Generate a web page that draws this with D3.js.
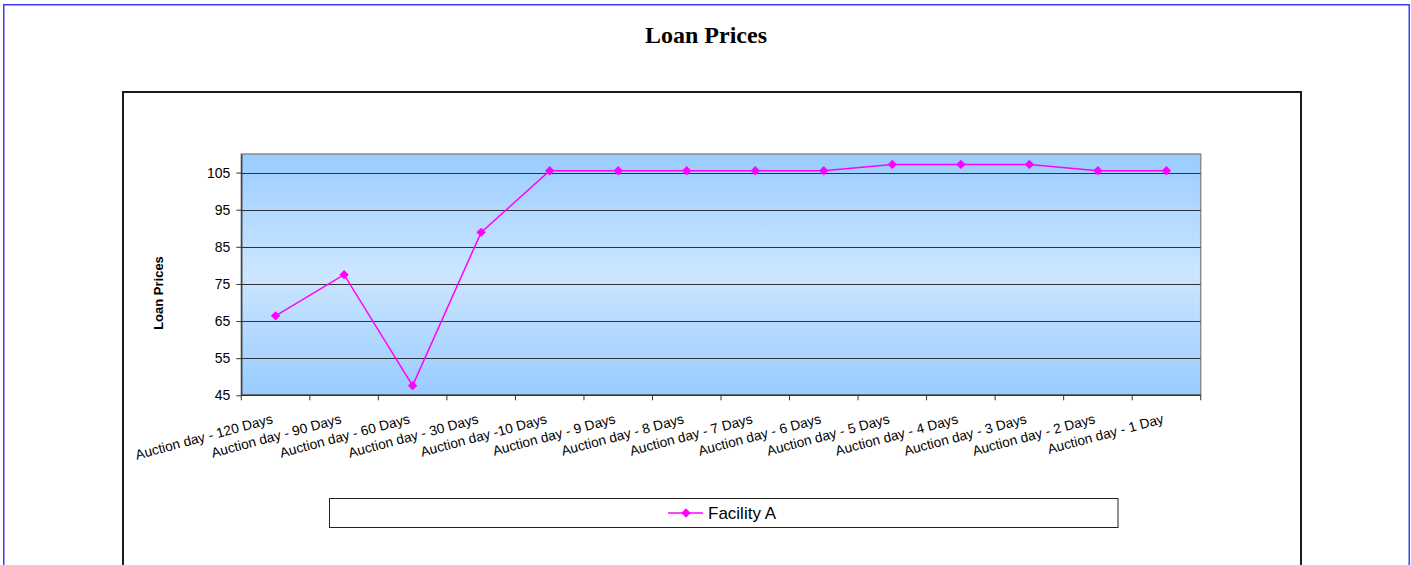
<!DOCTYPE html>
<html>
<head>
<meta charset="utf-8">
<script src="https://cdn.jsdelivr.net/npm/d3@7"></script>
<style>
  html, body { margin: 0; padding: 0; background: #fff; }
  svg { display: block; }
</style>
</head>
<body>
<svg id="chart" width="1411" height="565"></svg>
<script>
const categories = [
  "Auction day - 120 Days", "Auction day - 90 Days", "Auction day - 60 Days",
  "Auction day - 30 Days", "Auction day -10 Days", "Auction day - 9 Days",
  "Auction day - 8 Days", "Auction day - 7 Days", "Auction day - 6 Days",
  "Auction day - 5 Days", "Auction day - 4 Days", "Auction day - 3 Days",
  "Auction day - 2 Days", "Auction day - 1 Day"
];
const facilityA = [66.4, 77.5, 47.6, 88.9, 105.5, 105.5, 105.5, 105.5, 105.5, 107.2, 107.2, 107.2, 105.5, 105.5];
const yTicks = [45, 55, 65, 75, 85, 95, 105];
const yDomain = [45, 110];
const seriesName = "Facility A";
const chartTitle = "Loan Prices";
const yTitle = "Loan Prices";

const svg = d3.select("#chart");
const plot = { left: 241.3, right: 1200.7, top: 154, bottom: 395.3 };
const sans = "'Liberation Sans', Arial, sans-serif";

// outer page border
svg.append("rect").attr("x", 3.75).attr("y", 4.75).attr("width", 1405.5).attr("height", 620)
  .attr("fill", "none").attr("stroke", "#3c3cff").attr("stroke-width", 1.5);
// chart area border
svg.append("rect").attr("x", 123).attr("y", 92).attr("width", 1178).attr("height", 600)
  .attr("fill", "#fff").attr("stroke", "#1a1a1a").attr("stroke-width", 2);

// title
svg.append("text").attr("x", 706).attr("y", 43).attr("text-anchor", "middle")
  .attr("font-family", "'Liberation Serif', 'Times New Roman', serif")
  .attr("font-weight", "bold").attr("font-size", 24).attr("fill", "#000").text(chartTitle);

const x = d3.scaleBand().domain(categories).range([plot.left, plot.right]).padding(0);
const y = d3.scaleLinear().domain(yDomain).range([plot.bottom, plot.top]);

// gradient
const defs = svg.append("defs");
const grad = defs.append("linearGradient").attr("id", "bg").attr("x1", 0).attr("y1", 0).attr("x2", 0).attr("y2", 1);
grad.append("stop").attr("offset", "0%").attr("stop-color", "#99ccff");
grad.append("stop").attr("offset", "50%").attr("stop-color", "#cce6ff");
grad.append("stop").attr("offset", "100%").attr("stop-color", "#99ccff");

svg.append("rect").attr("x", plot.left).attr("y", plot.top)
  .attr("width", plot.right - plot.left).attr("height", plot.bottom - plot.top)
  .attr("fill", "url(#bg)").attr("stroke", "#8c8c8c").attr("stroke-width", 1.5);

// gridlines
svg.append("g").selectAll("line").data(yTicks.slice(1)).join("line")
  .attr("x1", plot.left).attr("x2", plot.right)
  .attr("y1", d => Math.round(y(d)) + 0.5).attr("y2", d => Math.round(y(d)) + 0.5)
  .attr("stroke", "#333").attr("stroke-width", 1);

// y axis
const yAxis = svg.append("g").attr("transform", `translate(${plot.left},0)`)
  .call(d3.axisLeft(y).tickValues(yTicks).tickSize(5).tickSizeOuter(0).tickPadding(6));
yAxis.select(".domain").attr("stroke", "#333").attr("stroke-width", 1.2);
yAxis.selectAll(".tick line").attr("stroke", "#333");
yAxis.selectAll("text").attr("font-family", sans).attr("font-size", 14).attr("fill", "#000");

// x axis line and boundary ticks
const xa = svg.append("g");
xa.append("line").attr("x1", plot.left).attr("x2", plot.right)
  .attr("y1", plot.bottom).attr("y2", plot.bottom).attr("stroke", "#333").attr("stroke-width", 1.5);
const bounds = categories.map(c => x(c)).concat([x(categories[categories.length - 1]) + x.bandwidth()]);
xa.selectAll("line.tk").data(bounds).join("line").attr("class", "tk")
  .attr("x1", d => d).attr("x2", d => d)
  .attr("y1", plot.bottom).attr("y2", plot.bottom + 5).attr("stroke", "#333").attr("stroke-width", 1);

// x labels
svg.append("g").selectAll("text").data(categories).join("text")
  .attr("transform", d => `translate(${x(d) + x.bandwidth() / 2 - 2},423) rotate(-15)`)
  .attr("text-anchor", "end").attr("font-family", sans).attr("font-size", 13.7)
  .attr("fill", "#000").text(d => d);

// y title
svg.append("text").attr("transform", "translate(163,293) rotate(-90)")
  .attr("text-anchor", "middle").attr("font-family", sans).attr("font-weight", "bold")
  .attr("font-size", 13).attr("fill", "#000").text(yTitle);

// line
const color = "#ff00ff";
const line = d3.line().x((d, i) => x(categories[i]) + x.bandwidth() / 2).y(d => y(d));
svg.append("path").datum(facilityA).attr("d", line)
  .attr("fill", "none").attr("stroke", color).attr("stroke-width", 1.5);

const diamond = d3.symbol().type(d3.symbolSquare).size(44);
svg.append("g").selectAll("path").data(facilityA).join("path")
  .attr("transform", (d, i) => `translate(${x(categories[i]) + x.bandwidth() / 2},${y(d)}) rotate(45)`)
  .attr("d", diamond).attr("fill", color);

// legend
const lg = svg.append("g");
lg.append("rect").attr("x", 329.5).attr("y", 498.5).attr("width", 788.5).attr("height", 29)
  .attr("fill", "#fff").attr("stroke", "#222").attr("stroke-width", 1);
lg.append("line").attr("x1", 668).attr("x2", 703).attr("y1", 513).attr("y2", 513)
  .attr("stroke", color).attr("stroke-width", 1.5);
lg.append("path").attr("transform", "translate(686,513) rotate(45)").attr("d", diamond).attr("fill", color);
lg.append("text").attr("x", 708).attr("y", 519).attr("font-family", sans).attr("font-size", 17)
  .attr("fill", "#000").text(seriesName);
</script>
</body>
</html>
